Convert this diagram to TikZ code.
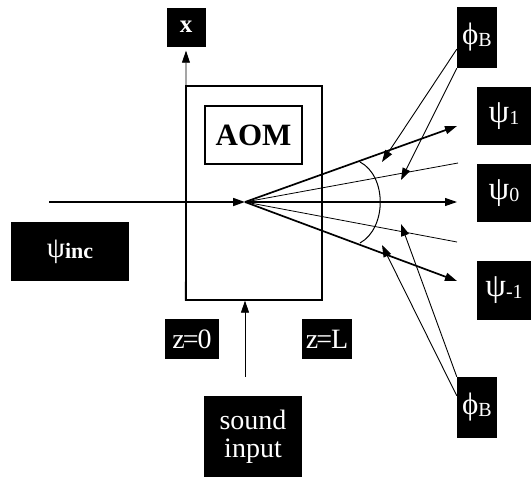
\documentclass[tikz,border=0pt]{standalone}
\usepackage{fontspec}
\setmainfont{Liberation Serif}
\usetikzlibrary{arrows.meta}

\newcommand{\subidx}[1]{\raisebox{-2pt}{\fontsize{20}{20}\selectfont #1}}
\newcommand{\bigpsi}{{\fontsize{33}{33}\selectfont ψ}}

\begin{document}
\begin{tikzpicture}[x=1pt, y=-1pt,
  tag/.style={fill=black, text=white, inner sep=0pt, font=\fontsize{28}{28}\selectfont},
  frame/.style={draw, line width=1.3pt, inner sep=0pt},
  head/.style={-{Triangle[length=12pt, width=8pt]}},
  beam/.style={line width=1.7pt, head},
  ray/.style={line width=0.8pt},
  pointer/.style={line width=0.9pt, head}]
  \useasboundingbox (0, 0) rectangle (531, 477);
  % modulator
  \node[frame, minimum width=136pt, minimum height=214pt] (crystal) at (254, 193) {};
  \node[frame, line width=1.6pt, minimum width=97pt, minimum height=58pt, font=\fontsize{31}{31}\selectfont\bfseries] (aom) at (253.5, 135) {AOM};
  % labels
  \node[tag, minimum width=39pt, minimum height=39pt, font=\fontsize{25}{25}\selectfont\bfseries] (xlab) at (186, 27) {x};
  \node[tag, minimum width=118pt, minimum height=59pt] (psiinc) at (70, 251.5) {{\fontsize{29}{29}\selectfont ψ}\raisebox{-1pt}{\fontsize{22}{22}\selectfont\bfseries inc}};
  \node[tag, minimum width=54pt, minimum height=58pt] (psione) at (504, 116) {\bigpsi\subidx{1}};
  \node[tag, minimum width=54pt, minimum height=58pt] (psizero) at (504, 193) {\bigpsi\subidx{0}};
  \node[tag, minimum width=54pt, minimum height=59pt] (psiminus) at (504, 290.5) {\bigpsi\subidx{-1}};
  \node[tag, minimum width=40pt, minimum height=61pt] (phitop) at (477, 37.5) {{\fontsize{31}{31}\selectfont ϕ}\subidx{B}};
  \node[tag, minimum width=40pt, minimum height=61pt] (phibot) at (477, 407.5) {{\fontsize{31}{31}\selectfont ϕ}\subidx{B}};
  \node[tag, minimum width=54pt, minimum height=40pt] (zzero) at (192, 339) {z\kern-2pt=\kern-1pt0};
  \node[tag, minimum width=50pt, minimum height=40pt] (zlen) at (327, 339) {z\kern-2pt=\kern-1ptL};
  \node[tag, minimum width=98pt, minimum height=81pt, align=center] (sound) at (253, 436.5) {sound\\input};
  % beam points
  \coordinate (src) at (49, 202);
  \coordinate (origin) at (245, 202);
  \coordinate (endone) at (457, 126);
  \coordinate (endup) at (458, 163);
  \coordinate (endzero) at (457, 202);
  \coordinate (enddn) at (457, 242);
  \coordinate (endminus) at (457, 281);
  \coordinate (tipa) at (382, 162);
  \coordinate (tipb) at (401, 180);
  \coordinate (tipc) at (401, 224);
  \coordinate (tipd) at (382, 245);
  % axis and sound input
  \draw[ray, head, shorten >=4pt] (crystal.south west) -- (xlab.south);
  \draw[ray, head] ([yshift=19pt]sound.north -| origin) -- (crystal.south -| origin);
  % beams
  \draw[beam] (src) -- (origin);
  \draw[beam] (origin) -- (endone);
  \draw[ray] (origin) -- (endup);
  \draw[ray, line width=1.1pt, head] (origin) -- (endzero);
  \draw[ray] (origin) -- (enddn);
  \draw[beam] (origin) -- (endminus);
  \draw[ray, line width=1pt] (360, 162) .. controls (387, 176) and (387, 228) .. (360, 243);
  % Bragg angle
  \draw[pointer] (phitop.210) -- (tipa);
  \draw[pointer] (phitop.south west) -- (tipb);
  \draw[pointer] (phibot.north west) -- (tipc);
  \draw[pointer] (phibot.150) -- (tipd);
\end{tikzpicture}
\end{document}
